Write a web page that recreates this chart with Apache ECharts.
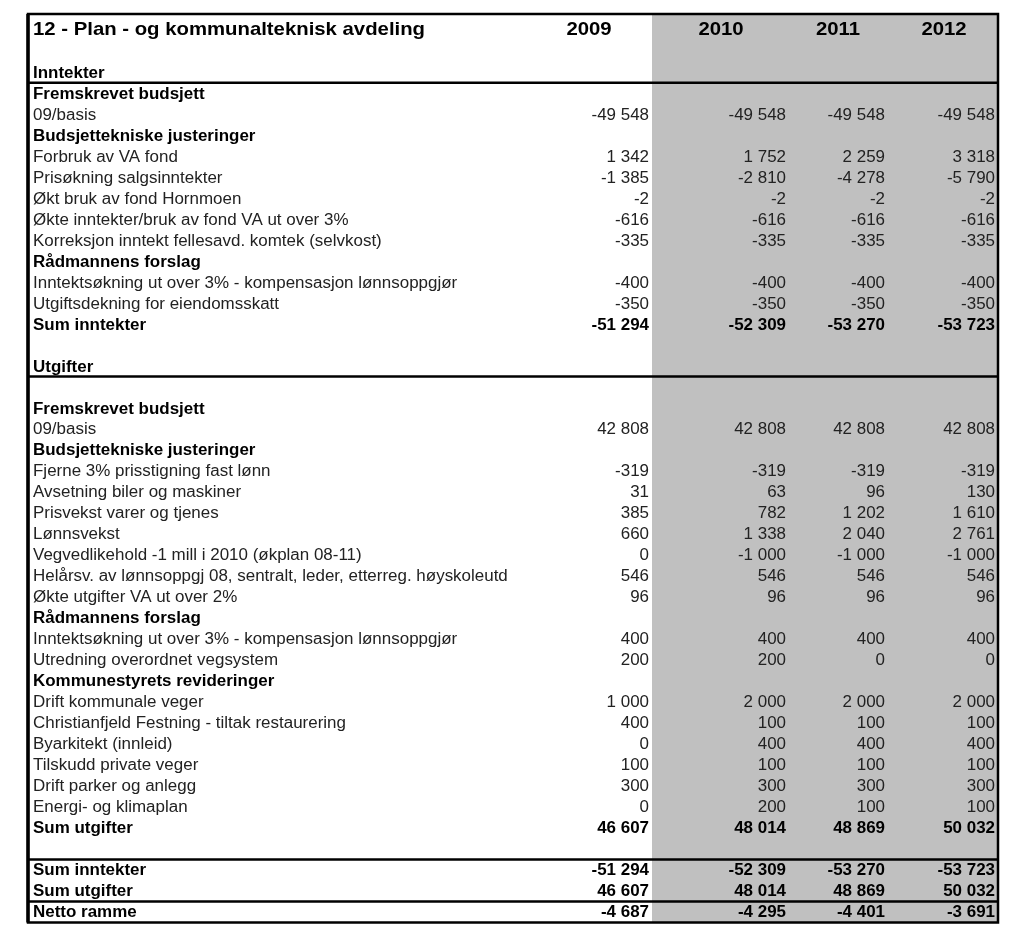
<!DOCTYPE html>
<html>
<head>
<meta charset="utf-8">
<script src="https://cdn.jsdelivr.net/npm/echarts@6/dist/echarts.min.js"></script>
<style>html,body{margin:0;padding:0;background:#fff;}#c{width:1024px;height:939px;}</style>
</head>
<body>
<div id="c"></div>
<script>
// ---- data ----
var title = '12 - Plan - og kommunalteknisk avdeling';
var years = ['2009', '2010', '2011', '2012'];
var rowLabels = [
  '', '', 'Inntekter', 'Fremskrevet budsjett', '09/basis', 'Budsjettekniske justeringer',
  'Forbruk av VA fond', 'Prisøkning salgsinntekter', 'Økt bruk av fond Hornmoen',
  'Økte inntekter/bruk av fond VA ut over 3%', 'Korreksjon inntekt fellesavd. komtek (selvkost)',
  'Rådmannens forslag', 'Inntektsøkning ut over 3% - kompensasjon lønnsoppgjør',
  'Utgiftsdekning for eiendomsskatt', 'Sum inntekter', '', 'Utgifter', '',
  'Fremskrevet budsjett', '09/basis', 'Budsjettekniske justeringer',
  'Fjerne 3% prisstigning fast lønn', 'Avsetning biler og maskiner', 'Prisvekst varer og tjenes',
  'Lønnsvekst', 'Vegvedlikehold -1 mill i 2010 (økplan 08-11)',
  'Helårsv. av lønnsoppgj 08, sentralt, leder, etterreg. høyskoleutd', 'Økte utgifter VA ut over 2%',
  'Rådmannens forslag', 'Inntektsøkning ut over 3% - kompensasjon lønnsoppgjør',
  'Utredning overordnet vegsystem', 'Kommunestyrets revideringer', 'Drift kommunale veger',
  'Christianfjeld Festning - tiltak restaurering', 'Byarkitekt (innleid)', 'Tilskudd private veger',
  'Drift parker og anlegg', 'Energi- og klimaplan', 'Sum utgifter', '',
  'Sum inntekter', 'Sum utgifter', 'Netto ramme'
];
var boldRows = [2, 3, 5, 11, 14, 16, 18, 20, 28, 31, 38, 40, 41, 42];
var v2009 = [null,null,null,null,-49548,null,1342,-1385,-2,-616,-335,null,-400,-350,-51294,null,null,null,null,42808,null,-319,31,385,660,0,546,96,null,400,200,null,1000,400,0,100,300,0,46607,null,-51294,46607,-4687];
var v2010 = [null,null,null,null,-49548,null,1752,-2810,-2,-616,-335,null,-400,-350,-52309,null,null,null,null,42808,null,-319,63,782,1338,-1000,546,96,null,400,200,null,2000,100,400,100,300,200,48014,null,-52309,48014,-4295];
var v2011 = [null,null,null,null,-49548,null,2259,-4278,-2,-616,-335,null,-400,-350,-53270,null,null,null,null,42808,null,-319,96,1202,2040,-1000,546,96,null,400,0,null,2000,100,400,100,300,100,48869,null,-53270,48869,-4401];
var v2012 = [null,null,null,null,-49548,null,3318,-5790,-2,-616,-335,null,-400,-350,-53723,null,null,null,null,42808,null,-319,130,1610,2761,-1000,546,96,null,400,0,null,2000,100,400,100,300,100,50032,null,-53723,50032,-3691];
var ruleAfterRows = [2, 16, 39, 41];

// ---- layout (table units = px from left edge of table) ----
var valueCols = [v2009, v2010, v2011, v2012];
var colRight = [621, 758, 857, 967];
var headCenter = [561, 693, 810, 916];
var labelX = 5;
var grayLeft = 624;
var tableW = 970;
var yMin = -0.77, yMax = 42.5;
var FONT = '"Liberation Sans", Arial, sans-serif';

function fmt(n) {
  var s = String(Math.abs(n)).replace(/\B(?=(\d{3})+(?!\d))/g, ' ');
  return (n < 0 ? '-' : '') + s;
}

var cells = [];
cells.push([labelX, 0, title, 'left', 1, 19]);
years.forEach(function (y, i) { cells.push([headCenter[i], 0, y, 'center', 1, 19]); });
rowLabels.forEach(function (lab, r) {
  var b = boldRows.indexOf(r) >= 0 ? 1 : 0;
  if (lab) cells.push([labelX, r, lab, 'left', b, 16]);
  valueCols.forEach(function (col, i) {
    if (col[r] !== null && col[r] !== undefined) cells.push([colRight[i], r, fmt(col[r]), 'right', b, 16]);
  });
});

var chart = echarts.init(document.getElementById('c'), null, { renderer: 'canvas' });
chart.setOption({
  animation: false,
  backgroundColor: '#ffffff',
  grid: { left: 28, right: 26, top: 14, bottom: 16.5 },
  xAxis: { type: 'value', min: 0, max: tableW, show: false },
  yAxis: { type: 'value', min: yMin, max: yMax, inverse: true, show: false },
  series: [
    {
      type: 'custom',
      data: [[0]],
      silent: true,
      renderItem: function (params, api) {
        var children = [];
        var g0 = api.coord([grayLeft, yMin]);
        var g1 = api.coord([tableW, yMax]);
        children.push({ type: 'rect', shape: { x: g0[0], y: g0[1], width: g1[0] - g0[0], height: g1[1] - g0[1] }, style: { fill: '#c0c0c0' } });
        ruleAfterRows.forEach(function (r) {
          var a = api.coord([0, r + 0.5]);
          var b = api.coord([tableW, r + 0.5]);
          children.push({ type: 'line', shape: { x1: a[0], y1: a[1], x2: b[0], y2: b[1] }, style: { stroke: '#000', lineWidth: 2.5 } });
        });
        var t0 = api.coord([0, yMin]);
        var t1 = api.coord([tableW, yMax]);
        children.push({ type: 'rect', shape: { x: t0[0], y: t0[1], width: t1[0] - t0[0], height: t1[1] - t0[1] }, style: { fill: null, stroke: '#000', lineWidth: 2.5 } });
        children.push({ type: 'line', shape: { x1: t0[0], y1: t0[1], x2: t0[0], y2: t1[1] }, style: { stroke: '#000', lineWidth: 3.5 } });
        return { type: 'group', children: children };
      }
    },
    {
      type: 'custom',
      data: cells,
      silent: true,
      renderItem: function (params, api) {
        var d = cells[params.dataIndex];
        var p = api.coord([d[0], d[1]]);
        var isTitle = d[1] === 0;
        var dy = isTitle ? 0 : 1;
        return {
          type: 'text',
          x: p[0], y: p[1] + dy,
          scaleX: isTitle ? 1.07 : 1.06,
          style: {
            x: 0, y: 0,
            text: d[2],
            textAlign: d[3],
            textVerticalAlign: 'middle',
            font: (d[4] ? 'bold ' : '') + d[5] + 'px ' + FONT,
            fill: d[4] ? '#000' : '#222'
          }
        };
      }
    }
  ]
});
</script>
</body>
</html>
